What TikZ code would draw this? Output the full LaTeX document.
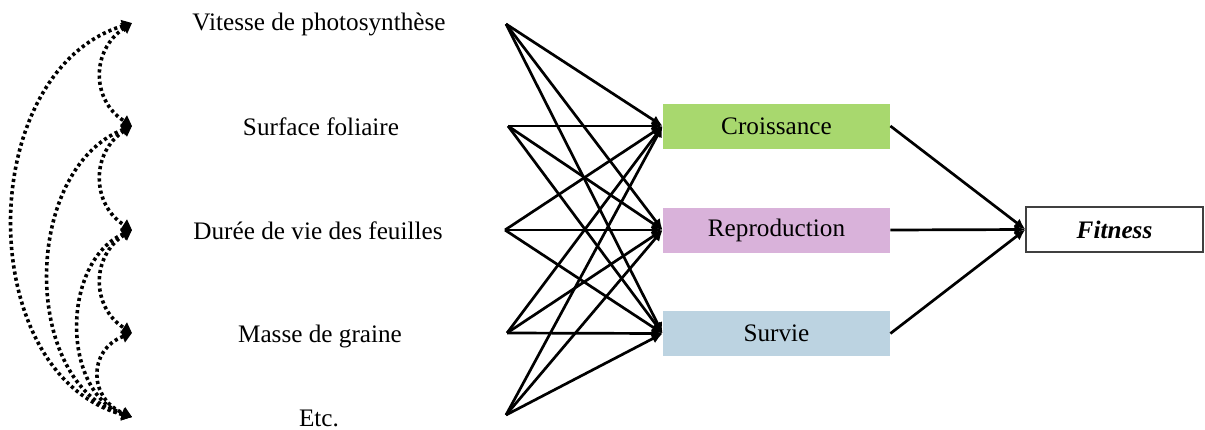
\documentclass[tikz,border=0pt]{standalone}
\usepackage{fontspec}
\setmainfont{Liberation Serif}
\usetikzlibrary{arrows.meta}
\definecolor{growthfill}{HTML}{A8D86E}
\definecolor{reprofill}{HTML}{D9B2DA}
\definecolor{survfill}{HTML}{BCD3E1}
\begin{document}
\begin{tikzpicture}[x=0.5pt,y=-0.5pt,
  trait/.style={font=\fontsize{12.6}{15}\selectfont, inner sep=0pt},
  comp/.style={minimum width=113.5pt, minimum height=22.5pt, inner sep=0pt,
    font=\fontsize{12.6}{15}\selectfont},
  link/.style={line width=1.35pt, -{Latex[length=5.5pt,width=5pt]}},
  corr/.style={line width=1.8pt, dash pattern=on 1.6pt off 1.5pt,
    {Triangle[length=5pt,width=6pt]}-{Triangle[length=5pt,width=6pt]}}]
\useasboundingbox (0,0) rectangle (1205,429);

% trait labels
\node[trait] (t1) at (319,24)  {Vitesse de photosynthèse};
\node[trait] (t2) at (321,127) {Surface foliaire};
\node[trait] (t3) at (318,231) {Durée de vie des feuilles};
\node[trait] (t4) at (320,336) {Masse de graine};
\node[trait] (t5) at (319,418) {Etc.};

% ends of the correlation arcs
\coordinate (d1) at (132,23);
\coordinate (d2) at (132,126);
\coordinate (d3) at (132,230);
\coordinate (d4) at (132,333);
\coordinate (d5) at (132,417);

% origins of the trait links
\coordinate (s1) at (506,24);
\coordinate (s2) at (508,126);
\coordinate (s3) at (505,230);
\coordinate (s4) at (507,333);
\coordinate (s5) at (506,415);

% fitness components
\node[comp, fill=growthfill] (cr) at (776.5,126) {Croissance};
\node[comp, fill=reprofill]  (re) at (776.5,230) {Reproduction};
\node[comp, fill=survfill]   (su) at (776.5,333.5) {Survie};

\node[draw=black!75, line width=0.6pt, minimum width=88.5pt, minimum height=22.5pt,
  inner sep=0pt, font=\fontsize{12.6}{15}\selectfont\bfseries\itshape]
  (fit) at (1114.5,229.5) {Fitness};

% correlations between traits
\draw[corr] (d1) .. controls (91,50)  and (91,100) .. (d2);
\draw[corr] (d2) .. controls (91,152) and (91,204) .. (d3);
\draw[corr] (d3) .. controls (91,256) and (91,307) .. (d4);
\draw[corr] (d4) .. controls (88,350) and (88,398) .. (d5);
\draw[corr] (d3) .. controls (61,262) and (61,392) .. (d5);
\draw[corr] (d2) .. controls (21,170) and (21,385) .. (d5);
\draw[corr] (d1) .. controls (-27,72) and (-27,375) .. (d5);

% traits to components
\foreach \s in {s1,s2,s3,s4,s5}
  \foreach \b in {cr,re,su}
    \draw[link] (\s) -- (\b.west);

% components to fitness
\draw[link] (cr.east) -- (fit.west);
\draw[link] (re.east) -- (fit.west);
\draw[link] (su.east) -- (fit.west);
\end{tikzpicture}
\end{document}
